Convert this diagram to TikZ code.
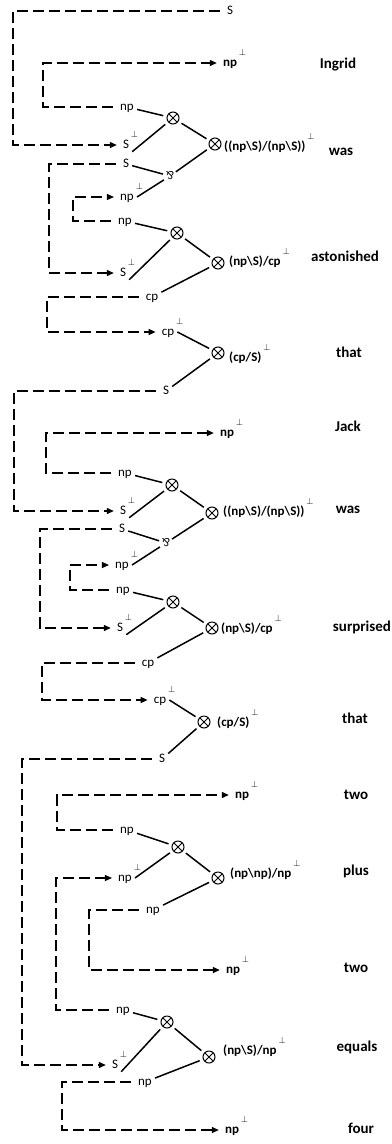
\documentclass[tikz,border=0pt]{standalone}
\usepackage{fontspec}
\setmainfont{Carlito}
\usetikzlibrary{arrows.meta}
\newcommand{\upp}{\rlap{\hspace{2pt}\raisebox{11pt}{$\scriptstyle\perp$}}}
\tikzset{
    mynode/.style = {inner sep=3pt, text height=7pt, text depth=0pt, font=\fontsize{13}{15}\selectfont, text=black},
    mynodeb/.style = {mynode, font=\fontsize{13}{15}\selectfont\bfseries},
    mytens/.style = {circle, draw=black, line width=1pt, minimum size=12pt, inner sep=0pt, outer sep=4pt,
        path picture={\draw[line width=1pt] (path picture bounding box.north west) -- (path picture bounding box.south east)
                      (path picture bounding box.north east) -- (path picture bounding box.south west);}},
    mypar/.style = {circle, inner sep=0pt, minimum size=14pt, rotate=180, font=\fontsize{12}{14}\selectfont},
    myform/.style = {anchor=base west, inner sep=0pt, font=\fontsize{13}{15}\selectfont\bfseries},
    myword/.style = {anchor=base, inner sep=0pt, font=\fontsize{15}{18}\selectfont\bfseries},
    edgen/.style = {-, line width=1.5pt, black},
    edged/.style = {-{Triangle[length=7pt,width=6pt]}, line width=1.2pt, black, dash pattern=on 11pt off 5pt, shorten <=4pt, shorten >=3pt}
}

\begin{document}
\begin{tikzpicture}[x=1pt,y=-1pt]
%
\node[mynode] at (230,11) (s0) {S};
\node[mynodeb] at (230,63) (npb1) {np\upp};
\node[myword] at (338,68) (ingrid) {Ingrid};
\node[mynode] at (127,107) (np1) {np};
\node[mytens] at (173,118) (t1) {};
\node[mynode] at (126,145) (sp1) {S\upp};
\node[mytens] at (215,144) (t2) {};
\node[myform] at (224,150) (f1) {((np\textbackslash S)/(np\textbackslash S))\upp};
\node[myword] at (341,155) (was1) {was};
\node[mynode] at (126,164) (s1) {S};
\node[mypar] at (170,176) (par1) {\&};
\node[mynode] at (127,197) (npp1) {np\upp};
%
\node[mynode] at (125,221) (np2) {np};
\node[mytens] at (177,233) (t3) {};
\node[mynode] at (123,273) (sp2) {S\upp};
\node[mytens] at (218,263) (t4) {};
\node[myform] at (229,265) (f2) {(np\textbackslash S)/cp\upp};
\node[myword] at (345,261) (astonished) {astonished};
\node[mynode] at (152,297) (cp1) {cp};
\node[mynode] at (168,332) (cpp1) {cp\upp};
\node[mytens] at (218,353) (t5) {};
\node[myform] at (229,361) (f3) {(cp/S)\upp};
\node[myword] at (349,357) (that1) {that};
\node[mynode] at (166,391) (s2) {S};
%
\node[mynodeb] at (227,433) (npb2) {np\upp};
\node[myword] at (348,431) (jack) {Jack};
\node[mynode] at (125,473) (np3) {np};
\node[mytens] at (172,485) (t6) {};
\node[mynode] at (123,511) (sp3) {S\upp};
\node[mytens] at (212,513) (t7) {};
\node[myform] at (223,515) (f4) {((np\textbackslash S)/(np\textbackslash S))\upp};
\node[myword] at (348,513) (was2) {was};
\node[mynode] at (122,529) (s3) {S};
\node[mypar] at (166,543) (par2) {\&};
\node[mynode] at (122,565) (npp2) {np\upp};
%
\node[mynode] at (123,590) (np4) {np};
\node[mytens] at (173,602) (t8) {};
\node[mynode] at (120,628) (sp4) {S\upp};
\node[mytens] at (212,628) (t9) {};
\node[myform] at (221,632) (f5) {(np\textbackslash S)/cp\upp};
\node[myword] at (362,631) (surprised) {surprised};
\node[mynode] at (148,663) (cp2) {cp};
\node[mynode] at (160,700) (cpp2) {cp\upp};
\node[mytens] at (204,722) (t10) {};
\node[myform] at (217,726) (f6) {(cp/S)\upp};
\node[myword] at (355,723) (that2) {that};
\node[mynode] at (162,759) (s4) {S};
%
\node[mynodeb] at (242,795) (npb3) {np\upp};
\node[myword] at (356,799) (two1) {two};
\node[mynode] at (127,830) (np5) {np};
\node[mytens] at (178,847) (t11) {};
\node[mynode] at (125,878) (npp3) {np\upp};
\node[mytens] at (218,878) (t12) {};
\node[myform] at (230,877) (f7) {(np\textbackslash np)/np\upp};
\node[myword] at (356,875) (plus) {plus};
\node[mynode] at (153,910) (np6) {np};
\node[mynodeb] at (233,970) (npb4) {np\upp};
\node[myword] at (356,972) (two2) {two};
%
\node[mynode] at (123,1010) (np7) {np};
\node[mytens] at (167,1022) (t13) {};
\node[mynode] at (115,1065) (sp5) {S\upp};
\node[mytens] at (209,1057) (t14) {};
\node[myform] at (223,1054) (f8) {(np\textbackslash S)/np\upp};
\node[myword] at (357,1051) (equals) {equals};
\node[mynode] at (145,1082) (np8) {np};
\node[mynodeb] at (232,1130) (npb5) {np\upp};
\node[myword] at (361,1133) (four) {four};
%
\draw[edgen] (np1) edge (t1);
\draw[edgen] (sp1.south east) edge (t1);
\draw[edgen] (t1) edge (t2);
\draw[edgen] (t2) edge (par1);
\draw[edgen] (s1) edge (par1);
\draw[edgen] (npp1.east) edge (par1);
\draw[edgen] (np2) edge (t3);
\draw[edgen] (sp2.south east) edge (t3);
\draw[edgen] (t3) edge (t4);
\draw[edgen] (t4) edge (cp1);
\draw[edgen] (cpp1.east) edge (t5);
\draw[edgen] (t5) edge (s2);
\draw[edgen] (np3) edge (t6);
\draw[edgen] (sp3.south east) edge (t6);
\draw[edgen] (t6) edge (t7);
\draw[edgen] (t7) edge (par2);
\draw[edgen] (s3) edge (par2);
\draw[edgen] (npp2.east) edge (par2);
\draw[edgen] (np4) edge (t8);
\draw[edgen] (sp4.south east) edge (t8);
\draw[edgen] (t8) edge (t9);
\draw[edgen] (t9) edge (cp2);
\draw[edgen] (cpp2.east) edge (t10);
\draw[edgen] (t10) edge (s4);
\draw[edgen] (np5) edge (t11);
\draw[edgen] (npp3.east) edge (t11);
\draw[edgen] (t11) edge (t12);
\draw[edgen] (t12) edge (np6);
\draw[edgen] (np7) edge (t13);
\draw[edgen] (sp5.south east) edge (t13);
\draw[edgen] (t13) edge (t14);
\draw[edgen] (t14) edge (np8);
%
\draw[edged] (s0) -- ++(-217,0) |- (sp1);
\draw[edged] (np1) -- ++(-84,0) |- (npb1);
\draw[edged] (s1) -- ++(-77,0) |- (sp2);
\draw[edged] (np2) -- ++(-52,0) |- (npp1);
\draw[edged] (cp1) -- ++(-105,0) |- (cpp1);
\draw[edged] (s2) -- ++(-152,0) |- (sp3);
\draw[edged] (np3) -- ++(-79,0) |- (npb2);
\draw[edged] (s3) -- ++(-82,0) |- (sp4);
\draw[edged] (np4) -- ++(-53,0) |- (npp2);
\draw[edged] (cp2) -- ++(-106,0) |- (cpp2);
\draw[edged] (s4) -- ++(-140,0) |- (sp5);
\draw[edged] (np5) -- ++(-70,0) |- (npb3);
\draw[edged] (np7) -- ++(-67,0) |- (npp3);
\draw[edged] (np6) -- ++(-64,0) |- (npb4);
\draw[edged] (np8) -- ++(-83,0) |- (npb5);

\path[use as bounding box] (0,0) rectangle (382,1144);

\end{tikzpicture}
\end{document}
